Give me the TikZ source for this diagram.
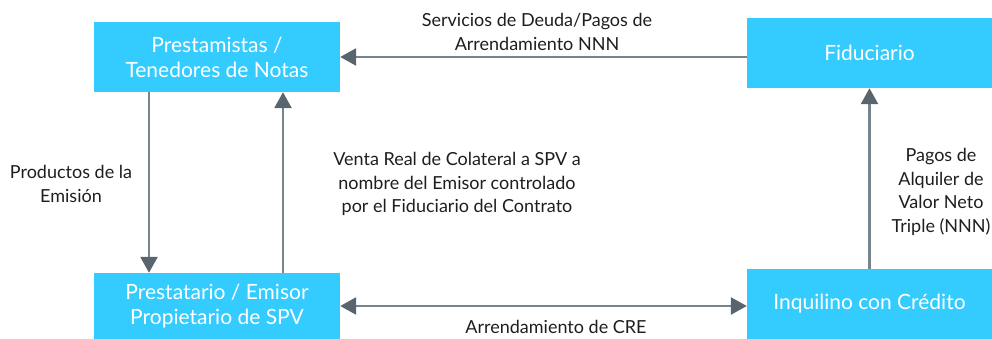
\documentclass[tikz,border=0pt]{standalone}
\usepackage{fontspec}
\setmainfont{Lato}
\usepackage{tikz}
\usetikzlibrary{positioning,calc,arrows.meta}

\definecolor{boxblue}{RGB}{52,204,255}
\definecolor{lineg}{RGB}{120,132,140}
\definecolor{headg}{RGB}{88,101,110}
\definecolor{txtg}{RGB}{30,30,30}

\tikzset{
	box/.style={minimum width=246pt, minimum height=70pt, fill=boxblue, text=white, align=center, inner sep=0pt, font=\fontsize{21}{25}\selectfont},
	lbl/.style={align=center, text=txtg, inner sep=0pt, font=\fontsize{18}{23.5}\selectfont},
	arr/.style={draw=lineg, line width=2.6pt, -{Triangle[width=17pt,length=16pt,fill=headg,color=headg]}},
	dblarr/.style={arr, {Triangle[width=17pt,length=16pt,fill=headg,color=headg]}-{Triangle[width=17pt,length=16pt,fill=headg,color=headg]}}
}

\begin{document}
\begin{tikzpicture}[x=1pt,y=-1pt]
		\useasboundingbox (0,0) rectangle (992,339);
		
		\node[box] (lend) at (217,57) {Prestamistas /\\Tenedores de Notas};
		\node[box, minimum width=245pt] (fid) at (869.5,53) {Fiduciario};
		\node[box, minimum height=66pt] (bor) at (217,306) {Prestatario / Emisor\\Propietario de SPV};
		\node[box, minimum width=245pt] (ten) at (869.5,304) {Inquilino con Crédito};
		
		\draw[arr] (fid.west |- lend.east) -- (lend.east);
		\draw[arr] ([xshift=-68pt]lend.south) -- ([xshift=-68pt]bor.north);
		\draw[arr] ([xshift=66pt]bor.north) -- ([xshift=66pt]lend.south);
		\draw[arr] (ten.north) -- (fid.south);
		\draw[dblarr] (bor.east) -- (ten.west |- bor.east);
		
		\node[lbl] (debt) at (537,32) {Servicios de Deuda/Pagos de\\Arrendamiento NNN};
		\node[lbl] (proc) at (71,184) {Productos de la\\Emisión};
		\node[lbl] (sale) at (457,184) {Venta Real de Colateral a SPV a\\nombre del Emisor controlado\\por el Fiduciario del Contrato};
		\node[lbl] (rent) at (941,192) {Pagos de\\Alquiler de\\Valor Neto\\Triple (NNN)};
		\node[lbl] (lease) at (556,327) {Arrendamiento de CRE};
	\end{tikzpicture}
\end{document}
